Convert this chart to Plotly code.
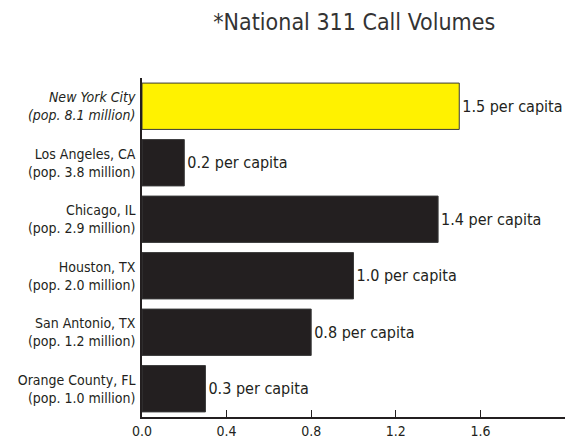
import plotly.graph_objects as go

cities = ["<i>New York City</i>", "Los Angeles, CA", "Chicago, IL", "Houston, TX", "San Antonio, TX", "Orange County, FL"]
pops = ["<i>(pop. 8.1 million)</i>", "(pop. 3.8 million)", "(pop. 2.9 million)", "(pop. 2.0 million)", "(pop. 1.2 million)", "(pop. 1.0 million)"]
values = [1.5, 0.2, 1.4, 1.0, 0.8, 0.3]
value_labels = ["1.5 per capita", "0.2 per capita", "1.4 per capita", "1.0 per capita", "0.8 per capita", "0.3 per capita"]
tick_vals = [0.0, 0.4, 0.8, 1.2, 1.6]
tick_text = ["0.0", "0.4", "0.8", "1.2", "1.6"]

FONT = "DejaVu Sans Condensed, Liberation Sans, sans-serif"
DARK = "#231f20"

cats = list(range(len(cities)))
colors = ["#fff200"] + [DARK] * (len(cities) - 1)

fig = go.Figure(go.Bar(
    y=cats, x=values, orientation="h",
    marker=dict(color=colors, line=dict(color="#3a3a3a", width=1)),
    width=0.82,
    text=value_labels, textposition="outside", cliponaxis=False,
    textfont=dict(family=FONT, size=16, color=DARK),
))

fig.update_layout(
    width=565, height=442,
    margin=dict(l=142, r=0, t=78, b=25, autoexpand=False),
    paper_bgcolor="white", plot_bgcolor="white",
    showlegend=False,
    title=dict(text="*National 311 Call Volumes", x=0.627, xanchor="center", y=0.95, yanchor="middle",
               font=dict(family=FONT, size=23, color="#333333")),
    font=dict(family=FONT, color=DARK),
    xaxis=dict(range=[0, 2], tickvals=tick_vals, ticktext=tick_text, ticks="inside", ticklen=7,
               tickcolor=DARK, showline=True, linecolor=DARK, linewidth=1.5, showgrid=False,
               zeroline=False, automargin=False, tickfont=dict(family=FONT, size=14, color=DARK)),
    yaxis=dict(range=[5.5, -0.5], tickvals=cats,
               ticktext=[c + "<br>" + p for c, p in zip(cities, pops)],
               showline=True, linecolor=DARK, linewidth=1.5, showgrid=False, zeroline=False,
               automargin=False, ticks="", ticklen=0, ticklabelstandoff=2,
               tickfont=dict(family=FONT, size=14, color=DARK)),
)

fig.write_html("out.html", config={"displayModeBar": False},
               post_script="document.body.style.margin='0';document.body.style.padding='0';document.body.style.overflow='hidden';")
